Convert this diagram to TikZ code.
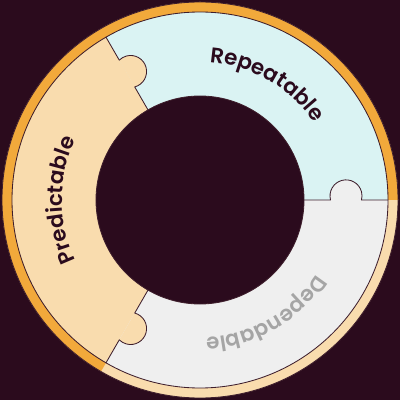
\documentclass[tikz,border=0pt]{standalone}
\usepackage{fontspec}
\usetikzlibrary{decorations.text}
\newfontfamily\ringfont{Poppins}[UprightFont=* SemiBold]
\newcommand\ringlabelfont{\ringfont\fontsize{15.2}{18}\selectfont}
\definecolor{bgdark}{HTML}{2B0B1D}
\definecolor{rimorange}{HTML}{F2A93B}
\definecolor{peach}{HTML}{F9DCAE}
\definecolor{iceblue}{HTML}{DAF3F3}
\definecolor{softgray}{HTML}{EFEFEF}
\definecolor{labelgray}{HTML}{A5A5A5}
\definecolor{seamcol}{HTML}{3E1E2C}
\begin{document}
\begin{tikzpicture}[line cap=round, line join=round,
    seam/.style={draw=seamcol, line width=0.6pt}]
    % 参数：内外半径、凸块位置与大小、文字基线
    \def\rin{2.6}
    \def\rout{4.7}
    \def\rrim{4.95}
    \def\rtab{3.65}
    \def\rknob{0.4}
    \def\rtext{3.45}

    % 背景
    \useasboundingbox (-5,-5) rectangle (5,5);
    \fill[bgdark] (-5,-5) rectangle (5,5);

    % 外圈底色
    \fill[peach] (0,0) circle (\rrim);

    % 三块拼图
    \fill[iceblue] (0:\rin) arc[start angle=0, end angle=120, radius=\rin]
        -- (120:\rout) arc[start angle=120, end angle=0, radius=\rout] -- cycle;
    \fill[peach] (120:\rin) arc[start angle=120, end angle=240, radius=\rin]
        -- (240:\rout) arc[start angle=240, end angle=120, radius=\rout] -- cycle;
    \fill[softgray] (240:\rin) arc[start angle=240, end angle=360, radius=\rin]
        -- (360:\rout) arc[start angle=360, end angle=240, radius=\rout] -- cycle;

    % 外圈进度（橙色部分）
    \fill[rimorange] (0:\rout) -- (0:\rrim)
        arc[start angle=0, end angle=240, radius=\rrim]
        -- (240:\rout) arc[start angle=240, end angle=0, radius=\rout] -- cycle;

    % 接缝 0 度：灰色凸块伸入蓝色
    \begin{scope}[rotate=0]
        \fill[softgray] (\rtab-0.386,0) arc[start angle=195, end angle=-15, radius=\rknob] -- cycle;
        \draw[seam] (\rin,0) -- (\rtab-0.386,0)
            arc[start angle=195, end angle=-15, radius=\rknob] -- (\rout,0);
    \end{scope}

    % 接缝 120 度：杏色凸块伸入蓝色
    \begin{scope}[rotate=120, yscale=-1]
        \fill[peach] (\rtab-0.386,0) arc[start angle=195, end angle=-15, radius=\rknob] -- cycle;
        \draw[seam] (\rin,0) -- (\rtab-0.386,0)
            arc[start angle=195, end angle=-15, radius=\rknob] -- (\rout,0);
    \end{scope}

    % 接缝 240 度：杏色凸块伸入灰色
    \begin{scope}[rotate=240]
        \fill[peach] (\rtab-0.386,0) arc[start angle=195, end angle=-15, radius=\rknob] -- cycle;
        \draw[seam] (\rin,0) -- (\rtab-0.386,0)
            arc[start angle=195, end angle=-15, radius=\rknob] -- (\rout,0);
    \end{scope}

    % 中心空洞与轮廓
    \fill[bgdark] (0,0) circle (\rin);
    \draw[seam] (0,0) circle (\rin);
    \draw[seam] (0,0) circle (\rout);
    \draw[seam] (0,0) circle (\rrim);

    % 弧形文字
    \path[decorate, decoration={text along path, text align=center,
        text={|\ringlabelfont\color{bgdark}|Repeatable}}]
        (100:\rtext) arc[start angle=100, end angle=20, radius=\rtext];
    \path[decorate, decoration={text along path, text align=center,
        text={|\ringlabelfont\color{bgdark}|Predictable}}]
        (220:\rtext) arc[start angle=220, end angle=140, radius=\rtext];
    \path[decorate, decoration={text along path, text align=center,
        text={|\ringlabelfont\color{labelgray}|Dependable}}]
        (340:\rtext) arc[start angle=340, end angle=260, radius=\rtext];
\end{tikzpicture}
\end{document}
